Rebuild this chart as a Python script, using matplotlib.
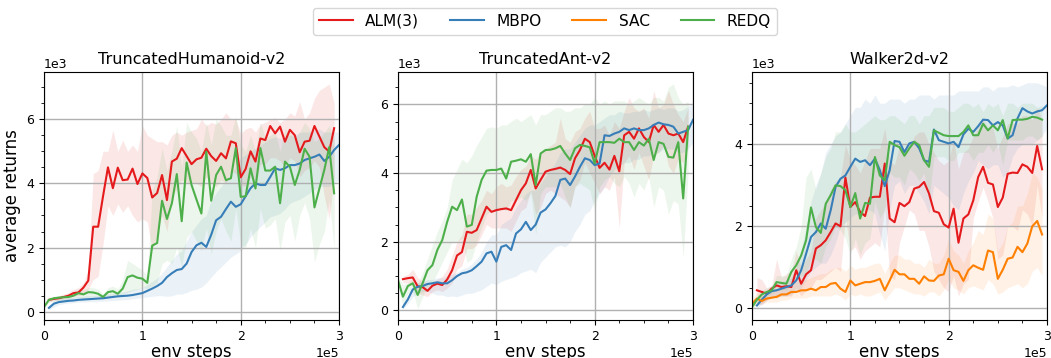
import numpy as np
import matplotlib
matplotlib.use('Agg')
import matplotlib.pyplot as plt
from matplotlib.ticker import MultipleLocator

# ----------------------------------------------------------------------
# returns in units of 1e3, evaluated every 5000 env steps
# ----------------------------------------------------------------------

STEP = 5000

# --- TruncatedHumanoid-v2 ---
hum_alm = [0.37,0.40,0.42,0.46,0.50,0.58,0.60,0.75,0.97,
           2.65,2.65,3.6,4.5,3.85,4.49,4.1,4.12,4.46,3.98,
           4.31,4.17,3.56,3.7,4.26,3.48,4.68,4.77,5.1,4.85,
           4.6,4.75,4.8,5.08,4.85,4.7,4.94,4.78,5.31,5.25,
           4.19,4.45,5.0,4.68,5.4,5.35,5.79,5.56,5.77,5.3,
           5.67,5.5,4.97,5.3,5.33,5.79,5.46,5.13,4.99,5.72]
hum_alm_hi = [0.45,0.45,0.5,0.55,0.6,0.7,0.75,0.9,1.3,
              4.3,4.4,5.0,5.0,5.66,5.0,5.35,5.0,5.2,5.0,
              5.8,5.5,5.4,5.3,5.3,5.2,5.5,5.6,5.5,5.6,
              5.65,5.7,6.0,5.8,5.9,5.85,6.0,6.2,6.0,6.0,
              5.55,5.7,5.75,5.6,5.85,5.9,6.0,6.05,5.9,6.0,
              6.2,6.1,6.55,6.0,6.2,6.65,6.9,7.0,7.1,6.5]
hum_alm_lo = [0.3,0.35,0.37,0.4,0.42,0.48,0.5,0.55,0.7,
              1.0,1.1,2.1,3.3,3.0,3.35,3.1,3.3,3.0,2.8,
              2.9,2.8,1.9,2.4,3.0,2.5,3.6,3.8,4.1,4.0,
              4.0,4.0,3.9,4.2,4.0,3.9,4.1,4.0,4.4,4.3,
              3.95,3.9,4.2,4.0,4.6,4.6,4.8,4.8,4.7,4.5,
              4.8,4.7,4.2,4.4,4.5,4.7,4.5,3.6,2.9,4.2]

hum_mbpo = [0.12,0.25,0.3,0.32,0.34,0.35,0.37,0.38,0.39,
            0.40,0.41,0.42,0.44,0.46,0.48,0.49,0.5,0.52,0.55,
            0.58,0.65,0.72,0.8,0.9,1.08,1.2,1.3,1.33,1.5,
            1.86,2.07,2.15,2.02,2.4,2.85,2.96,3.2,3.43,3.27,
            3.35,3.6,3.85,4.0,3.95,3.95,4.2,4.47,4.42,4.47,
            4.57,4.57,4.62,4.73,4.78,4.83,4.9,4.7,4.83,5.04,5.2]
hum_mbpo_hi = [0.2,0.35,0.4,0.42,0.44,0.45,0.47,0.48,0.5,
               0.5,0.52,0.54,0.56,0.58,0.6,0.62,0.65,0.7,0.72,
               0.75,0.85,0.95,1.05,1.2,1.4,1.6,1.8,1.9,2.2,
               2.5,2.7,2.9,3.0,3.5,3.7,3.9,4.1,4.3,4.5,
               4.8,4.9,5.0,5.1,5.2,5.3,5.4,5.45,5.4,5.45,
               5.5,5.5,5.6,5.6,5.6,5.65,5.7,5.6,5.6,5.6,5.6]
hum_mbpo_lo = [0.05,0.15,0.22,0.25,0.27,0.28,0.3,0.3,0.31,
               0.31,0.32,0.33,0.34,0.35,0.36,0.37,0.38,0.4,0.42,
               0.44,0.46,0.48,0.5,0.5,0.48,0.5,0.55,0.55,0.6,
               0.67,0.7,0.77,0.9,1.08,1.25,1.4,1.55,1.7,1.8,
               1.9,2.1,2.33,2.5,2.65,2.8,2.96,3.0,3.06,3.2,
               3.38,3.45,3.5,3.6,3.7,3.8,3.9,3.9,3.9,4.0,4.1]

hum_redq = [0.15,0.37,0.42,0.44,0.45,0.46,0.5,0.58,0.54,0.61,
            0.6,0.56,0.46,0.61,0.64,0.56,0.72,1.08,1.13,1.06,
            1.03,0.9,2.06,2.14,3.46,2.89,3.38,4.29,2.82,4.65,
            3.95,3.5,3.06,4.99,3.46,4.26,4.52,4.1,4.16,5.1,
            3.58,3.6,4.47,3.84,5.1,4.4,4.4,4.52,3.38,4.68,
            4.52,3.95,4.42,5.08,4.83,3.25,3.84,4.42,5.13,3.69]
hum_redq_hi = [0.2,0.42,0.45,0.47,0.5,0.55,0.62,0.7,0.68,0.75,
               0.75,0.7,0.55,0.75,0.8,0.7,1.0,1.6,1.5,1.4,
               1.3,1.1,3.8,4.2,5.1,4.4,5.0,5.8,4.5,5.9,
               5.6,5.4,5.0,5.9,5.2,6.0,5.8,5.5,5.5,6.1,
               5.2,5.0,5.5,5.0,5.9,5.4,5.5,5.6,5.0,5.7,
               5.6,5.4,5.6,5.9,5.7,5.3,5.4,5.6,5.8,5.4]
hum_redq_lo = [0.1,0.3,0.33,0.35,0.37,0.38,0.42,0.45,0.42,0.45,
               0.47,0.45,0.4,0.45,0.47,0.45,0.55,0.6,0.65,0.7,
               0.75,0.72,0.8,0.9,1.5,1.6,1.5,2.0,1.4,2.3,
               2.5,2.2,1.9,2.6,1.8,2.5,2.9,2.5,2.2,3.2,
               2.1,2.0,2.6,2.0,3.2,2.6,2.7,2.9,1.9,2.8,
               3.0,2.2,3.0,3.4,2.9,1.55,2.1,2.5,3.5,1.95]

# --- TruncatedAnt-v2 ---
ant_alm = [0.91,0.94,0.96,0.7,0.68,0.57,0.72,0.78,0.74,
           0.9,1.17,1.6,1.7,2.29,2.26,2.34,2.68,3.02,2.87,
           2.92,2.95,2.97,2.92,3.21,3.5,3.7,4.09,3.55,3.8,
           4.04,4.09,4.12,4.16,4.09,3.97,4.43,4.67,5.0,4.9,
           4.5,4.15,4.3,4.1,4.5,4.05,5.1,5.2,5.0,5.3,
           5.05,4.9,5.4,5.2,5.4,5.15,5.1,5.15,4.9,5.35]
ant_alm_hi = [1.0,1.05,1.2,0.95,0.85,0.8,0.85,0.9,1.0,
              1.2,1.6,2.0,2.2,2.8,2.8,3.0,3.2,3.5,3.4,
              3.6,3.7,3.6,3.65,3.9,4.1,4.2,4.5,4.4,4.6,
              4.7,4.8,4.9,5.6,5.0,4.9,5.2,5.3,5.6,5.8,
              5.3,5.3,5.4,5.1,5.5,5.3,5.8,6.2,5.9,5.8,
              5.9,5.6,6.4,5.9,6.0,6.4,6.0,5.7,5.5,5.9]
ant_alm_lo = [0.8,0.8,0.75,0.5,0.45,0.4,0.55,0.6,0.55,
              0.65,0.8,1.2,1.3,1.8,1.8,1.9,2.2,2.5,2.4,
              2.4,2.4,2.4,2.3,2.6,2.9,3.0,3.5,2.8,3.0,
              3.4,3.5,3.4,3.3,3.2,3.0,3.6,3.8,4.3,4.0,
              3.7,3.4,3.6,3.5,3.9,2.4,4.3,4.5,4.1,4.6,
              4.2,3.8,4.5,4.6,4.8,4.2,4.0,4.4,4.3,4.8]

ant_mbpo = [0.1,0.32,0.61,0.69,0.71,0.77,0.79,0.82,0.79,
            0.79,0.88,1.0,1.08,1.11,1.17,1.29,1.42,1.66,1.71,
            1.42,1.85,1.9,1.76,2.24,2.36,2.58,2.34,2.5,2.85,
            2.94,3.12,3.33,3.8,3.84,3.65,3.9,4.18,4.43,4.38,
            4.23,4.28,5.1,5.08,5.15,5.2,5.3,5.25,5.3,5.25,
            5.25,5.3,5.4,5.47,5.42,5.4,5.35,5.15,5.2,5.25,5.55]
ant_mbpo_hi = [0.2,0.45,0.7,0.8,0.85,0.9,0.9,0.95,0.95,
               1.0,1.05,1.1,1.2,1.25,1.35,1.5,1.7,2.0,2.2,
               2.2,2.5,2.6,2.7,3.0,3.2,3.4,3.5,3.5,3.7,
               3.9,4.1,4.3,4.6,4.7,4.7,4.9,5.1,5.3,5.4,
               5.4,5.5,5.6,5.7,5.7,5.8,5.75,5.75,5.8,5.8,
               5.85,5.8,5.85,5.9,5.85,5.9,5.9,5.8,5.85,5.95,6.0]
ant_mbpo_lo = [0.05,0.2,0.4,0.5,0.55,0.55,0.5,0.45,0.45,
               0.4,0.42,0.4,0.45,0.5,0.5,0.55,0.6,0.7,0.8,
               0.75,0.85,0.9,0.95,1.0,1.1,1.15,1.2,1.1,1.4,
               1.55,1.7,1.85,1.9,1.85,2.0,2.3,2.5,2.8,2.9,
               3.2,3.4,3.6,3.9,4.1,4.2,4.3,4.3,4.4,4.4,
               4.5,4.5,4.6,4.6,4.7,4.7,4.7,4.6,4.6,4.7,4.9]

ant_redq = [0.88,0.4,0.71,0.79,0.45,0.79,1.17,1.32,1.76,2.05,
            2.58,3.02,2.92,3.23,2.44,2.49,3.31,3.8,4.07,4.09,
            4.09,4.13,3.84,4.33,4.36,4.4,4.33,4.55,3.65,4.57,
            4.67,4.68,4.72,4.79,4.57,4.38,4.72,4.82,4.79,4.75,
            4.28,4.9,4.9,4.9,4.88,5.0,4.9,4.9,4.67,4.9,
            4.8,5.0,4.38,4.9,4.85,4.47,4.45,4.9,3.26,5.35]
ant_redq_hi = [1.0,0.75,0.8,0.95,0.8,1.1,1.5,1.9,2.3,2.6,
               3.0,3.8,4.1,4.4,4.3,4.5,4.8,5.05,5.3,5.35,
               5.3,5.4,5.4,5.5,5.6,5.5,5.6,5.7,5.4,5.7,
               5.7,5.8,5.9,5.9,5.8,5.8,5.9,5.9,6.0,6.0,
               6.2,6.0,6.1,6.0,6.1,6.1,6.1,6.0,6.1,6.2,
               6.1,6.0,6.2,6.2,6.1,6.5,6.6,6.2,6.0,6.1]
ant_redq_lo = [0.7,0.15,0.5,0.55,0.05,0.4,0.7,0.8,1.1,1.4,
               1.7,2.0,2.0,2.1,1.4,1.5,2.0,2.4,2.8,2.9,
               2.9,3.0,2.9,3.2,3.2,3.3,3.2,3.4,2.2,3.4,
               3.6,3.6,3.6,3.7,3.3,3.0,3.6,3.7,3.6,3.5,
               2.9,3.6,3.8,3.9,3.7,3.6,3.9,3.7,3.3,3.7,
               3.5,3.9,3.0,3.6,3.5,2.8,3.2,3.1,1.55,4.0]

# --- Walker2d-v2 ---
wlk_alm = [0.44,0.4,0.36,0.48,0.56,0.52,0.54,0.52,0.93,
           0.6,0.83,0.93,1.46,1.54,1.66,1.86,2.07,2.0,3.19,
           2.47,2.59,2.35,2.25,2.7,2.72,2.72,3.53,2.19,2.1,
           2.57,2.49,2.59,2.92,2.96,3.08,2.8,2.37,2.33,2.05,
           1.97,2.43,1.6,2.19,2.29,2.63,3.2,3.45,3.06,3.02,
           2.47,2.7,3.28,3.31,3.3,3.51,3.45,3.3,3.96,3.39]
wlk_alm_hi = [0.75,0.7,0.5,0.55,1.2,0.75,0.85,0.9,1.4,
              1.0,1.2,1.4,2.2,2.4,2.6,2.9,3.1,3.2,4.0,
              3.6,3.5,3.3,3.6,3.9,3.9,3.9,4.4,3.6,3.5,
              4.0,3.8,3.9,4.2,4.3,4.3,4.0,3.8,3.6,3.5,
              3.6,4.1,3.4,3.8,3.9,4.2,4.4,4.6,4.4,4.4,
              3.9,4.2,4.5,4.5,4.5,4.7,4.7,4.6,4.9,4.6]
wlk_alm_lo = [0.1,0.1,0.2,0.3,0.25,0.3,0.3,0.3,0.5,
              0.3,0.45,0.5,0.7,0.7,0.8,0.9,1.0,0.9,2.2,
              1.4,1.5,1.2,1.4,1.5,1.6,1.5,2.5,0.8,0.7,
              1.6,2.0,2.4,2.3,1.9,1.9,1.5,0.9,0.7,0.5,
              0.4,0.8,0.3,0.6,0.7,2.2,2.6,2.95,2.6,2.2,
              1.2,1.3,2.0,2.0,1.9,2.4,2.3,2.0,3.0,2.2]

wlk_mbpo = [0.07,0.21,0.34,0.42,0.44,0.48,0.52,0.56,0.68,
            0.93,1.33,1.74,1.86,2.07,1.94,2.39,2.96,3.16,3.24,
            3.45,3.65,3.57,3.61,3.49,3.65,3.37,2.98,3.37,4.08,
            4.06,3.81,4.02,4.06,3.9,3.61,3.57,4.36,4.1,4.06,
            4.02,4.06,3.93,4.24,4.38,4.3,4.44,4.6,4.59,4.46,
            4.54,4.46,4.14,4.22,4.63,4.88,4.8,4.75,4.8,4.83,4.95]
wlk_mbpo_hi = [0.2,0.35,0.45,0.55,0.6,0.65,0.7,0.75,1.0,
               1.4,2.0,2.6,3.0,3.3,3.8,4.0,4.2,4.3,4.5,
               4.7,4.9,4.9,5.1,5.0,5.2,5.0,5.0,5.1,5.1,
               5.1,5.0,5.1,5.1,5.2,5.2,5.2,5.1,5.2,5.2,
               5.2,5.2,5.3,5.3,5.3,5.3,5.3,5.4,5.4,5.3,
               5.4,5.4,5.4,5.45,5.4,5.45,5.5,5.5,5.5,5.45,5.4]
wlk_mbpo_lo = [0.0,0.1,0.2,0.25,0.3,0.3,0.3,0.35,0.4,
               0.5,0.7,0.9,1.0,1.1,1.1,1.3,1.6,2.0,2.1,
               2.2,2.3,2.3,2.4,2.4,2.3,1.8,1.4,2.4,3.0,
               3.1,2.8,3.0,3.0,2.8,2.6,2.3,3.0,2.9,2.8,
               2.7,2.5,2.4,2.8,3.1,3.3,3.6,3.5,3.4,3.5,
               3.5,3.2,3.3,3.7,3.9,4.0,4.0,4.0,4.1,4.2,4.4]

wlk_sac = [0.11,0.24,0.18,0.24,0.26,0.28,0.34,0.34,0.4,0.4,
           0.44,0.44,0.48,0.44,0.52,0.52,0.6,0.62,0.48,0.4,
           0.68,0.56,0.6,0.64,0.64,0.67,0.72,0.44,0.68,0.94,
           0.83,0.83,0.72,0.72,0.6,0.78,0.68,0.67,0.8,0.83,
           1.21,0.93,0.89,0.67,0.93,1.05,0.99,0.94,1.41,1.37,
           0.72,0.94,1.21,1.24,1.5,1.37,1.58,2.0,2.13,1.8]
wlk_sac_hi = [0.2,0.4,0.3,0.35,0.4,0.45,0.5,0.55,0.6,0.65,
              0.7,0.7,0.75,0.8,0.85,0.85,0.95,1.0,1.0,0.9,
              1.05,0.95,1.0,1.0,1.05,1.1,1.1,0.85,1.1,1.3,
              1.3,1.2,1.2,1.1,1.1,1.0,1.2,1.1,1.1,1.3,
              1.7,1.4,1.3,1.1,1.4,1.6,1.9,1.8,2.3,2.2,
              1.4,1.6,2.0,2.1,2.5,2.5,2.8,3.3,3.2,2.9]
wlk_sac_lo = [0.05,0.1,0.1,0.15,0.15,0.15,0.2,0.2,0.25,0.25,
              0.25,0.25,0.3,0.3,0.3,0.3,0.3,0.35,0.3,0.2,
              0.35,0.3,0.35,0.3,0.3,0.35,0.4,0.2,0.35,0.5,
              0.5,0.45,0.4,0.35,0.35,0.3,0.4,0.4,0.3,0.45,
              0.7,0.5,0.45,0.35,0.5,0.55,0.5,0.45,0.7,0.6,
              0.35,0.4,0.5,0.55,0.6,0.5,0.6,0.9,1.0,0.8]

wlk_redq = [0.03,0.21,0.34,0.4,0.44,0.64,0.62,0.6,0.89,1.05,
            1.29,1.66,2.46,1.98,1.84,2.55,2.76,3.0,2.98,2.88,
            2.47,2.81,2.19,2.57,2.55,3.69,3.24,3.12,4.06,3.98,
            3.93,3.72,3.9,4.06,3.98,3.61,3.45,4.34,4.28,4.22,
            4.2,4.2,4.2,4.3,4.46,4.22,4.22,4.5,4.34,4.46,
            4.34,4.59,4.14,4.59,4.6,4.6,4.62,4.67,4.65,4.6]
wlk_redq_hi = [0.1,0.3,0.45,0.5,0.55,0.8,0.8,0.8,1.2,1.5,
               2.0,3.2,3.4,2.9,3.3,3.7,3.9,4.3,4.3,4.5,
               4.3,4.3,4.4,4.5,4.6,4.7,4.6,4.6,4.7,4.7,
               4.6,4.5,4.7,4.7,4.5,4.7,4.7,4.9,4.9,4.9,
               4.8,4.8,4.9,5.0,5.0,4.9,5.0,4.8,5.0,4.9,
               5.0,4.7,5.0,5.0,4.9,5.0,5.0,5.0,4.9,4.95]
wlk_redq_lo = [0.0,0.1,0.2,0.3,0.35,0.45,0.45,0.45,0.6,0.7,
               0.8,0.8,1.2,1.2,1.1,1.5,1.7,2.0,1.9,1.7,
               1.3,1.7,1.3,1.6,1.7,2.6,2.2,2.4,3.3,3.2,
               3.2,3.0,3.4,3.3,3.1,3.3,2.6,3.7,3.7,3.7,
               3.6,3.6,3.8,3.8,3.8,3.6,3.8,3.8,4.0,3.8,
               4.0,3.5,4.1,4.1,4.1,4.1,4.2,4.2,4.1,4.2]

# first evaluated step of each method
start = {'ALM(3)': 5000, 'MBPO': 5000, 'SAC': 0, 'REDQ': 0}
colors = {'ALM(3)': '#e41a1c', 'MBPO': '#377eb8', 'SAC': '#ff7f00', 'REDQ': '#4daf4a'}

envs = [
    ('TruncatedHumanoid-v2', (-260, 7470), {
        'ALM(3)': (hum_alm, hum_alm_lo, hum_alm_hi),
        'MBPO': (hum_mbpo, hum_mbpo_lo, hum_mbpo_hi),
        'REDQ': (hum_redq, hum_redq_lo, hum_redq_hi)}),
    ('TruncatedAnt-v2', (-280, 6940), {
        'ALM(3)': (ant_alm, ant_alm_lo, ant_alm_hi),
        'MBPO': (ant_mbpo, ant_mbpo_lo, ant_mbpo_hi),
        'REDQ': (ant_redq, ant_redq_lo, ant_redq_hi)}),
    ('Walker2d-v2', (-285, 5760), {
        'ALM(3)': (wlk_alm, wlk_alm_lo, wlk_alm_hi),
        'MBPO': (wlk_mbpo, wlk_mbpo_lo, wlk_mbpo_hi),
        'SAC': (wlk_sac, wlk_sac_lo, wlk_sac_hi),
        'REDQ': (wlk_redq, wlk_redq_lo, wlk_redq_hi)}),
]

fig = plt.figure(figsize=(10.51, 3.58), dpi=100)
lefts = [0.0419, 0.3787, 0.7155]

handles = {}
for i, (title, ylim, runs) in enumerate(envs):
    ax = fig.add_axes([lefts[i], 0.106, 0.2807, 0.6927])
    for name in ['ALM(3)', 'MBPO', 'SAC', 'REDQ']:
        if name not in runs:
            continue
        mean, lo, hi = runs[name]
        x = start[name] + STEP * np.arange(len(mean))
        ax.fill_between(x, np.array(lo) * 1e3, np.array(hi) * 1e3,
                        color=colors[name], alpha=0.1, linewidth=0)
        l, = ax.plot(x, np.array(mean) * 1e3, color=colors[name], lw=1.5, label=name)
        handles[name] = l
    ax.set_xlim(0, 300000)
    ax.set_ylim(*ylim)
    ax.xaxis.set_major_locator(MultipleLocator(100000))
    ax.xaxis.set_minor_locator(MultipleLocator(25000))
    ax.yaxis.set_major_locator(MultipleLocator(2000))
    ax.yaxis.set_minor_locator(MultipleLocator(500))
    ax.ticklabel_format(style='sci', axis='both', scilimits=(0, 0))
    ax.tick_params(labelsize=9)
    ax.xaxis.get_offset_text().set_fontsize(9)
    ax.yaxis.get_offset_text().set_fontsize(9)
    ax.grid(True, which='major', color='#b0b0b0', lw=1)
    ax.set_title(title, fontsize=11.5)
    ax.set_xlabel('env steps', fontsize=12, labelpad=0)
    if i == 0:
        ax.set_ylabel('average returns', fontsize=12)

labels = ['ALM(3)', 'MBPO', 'SAC', 'REDQ']
fig.legend([handles[n] for n in labels], labels,
           loc='upper center', bbox_to_anchor=(0.5186, 1.0), ncol=4,
           fontsize=11.1, handlelength=2.2)

fig.savefig('out.png', dpi=100)
